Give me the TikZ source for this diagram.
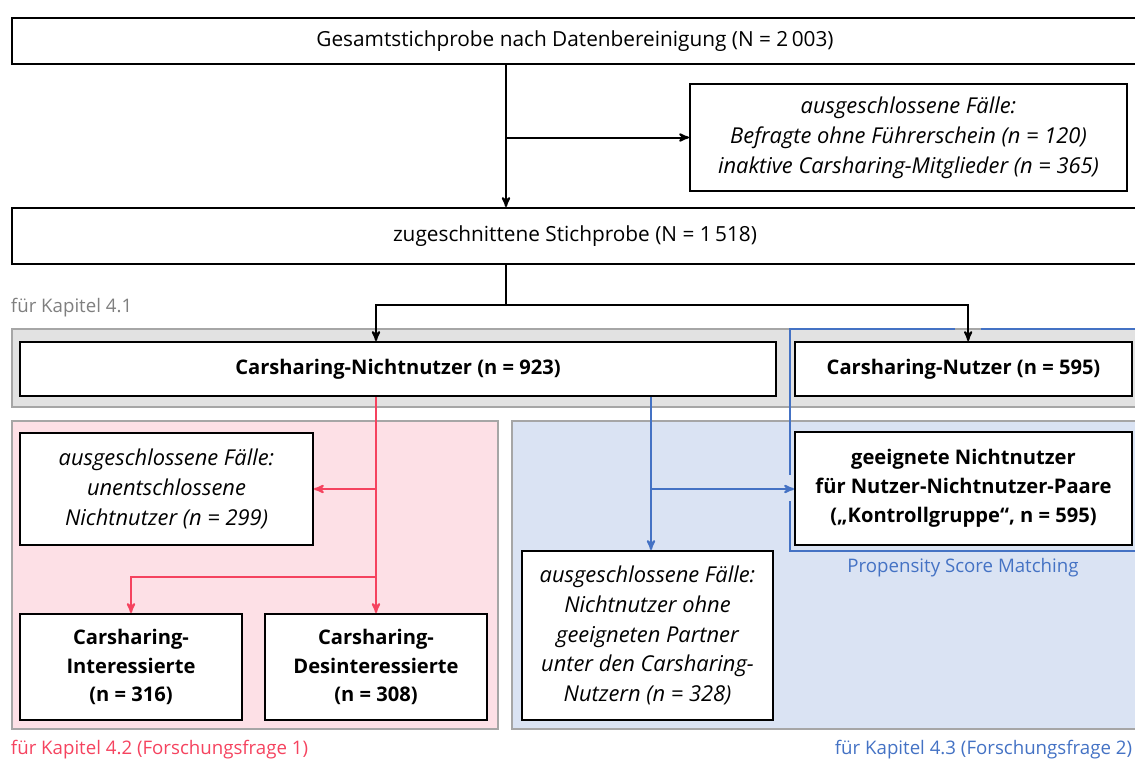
\documentclass[tikz,border=0pt]{standalone}
\usepackage{fontspec}
\setmainfont{Open Sans}
\usetikzlibrary{arrows,positioning}
\definecolor{rotlinie}{HTML}{F5435F}
\definecolor{rotfeld}{HTML}{FDE0E6}
\definecolor{blaulinie}{HTML}{4472C4}
\definecolor{blaufeld}{HTML}{DAE3F3}
\definecolor{graufeld}{HTML}{E2E2E2}
\definecolor{graurand}{HTML}{A6A6A6}
\definecolor{grautext}{HTML}{7F7F7F}
\newcommand{\normtext}{\fontsize{15.6}{22.2}\selectfont}
\newcommand{\fetttext}{\fontsize{15.1}{21.6}\selectfont\bfseries}
\newcommand{\kurstext}{\fontsize{16.4}{22.4}\selectfont\itshape}

\begin{document}
\begin{tikzpicture}[->,>=stealth',x=0.75pt,y=-0.75pt,line width=1.5pt,
		font=\normtext]
		\tikzstyle{box}=[draw=black,fill=white,line width=1.5pt,align=center,inner sep=2pt,-]
		\tikzstyle{feld}=[draw=graurand,line width=1pt,-]
		\tikzstyle{rot}=[draw=rotlinie,line width=1.5pt]
		\tikzstyle{blau}=[draw=blaulinie,line width=1.5pt]
		\tikzstyle{hinweis}=[anchor=west,inner sep=0pt,font=\fontsize{14}{17}\selectfont]
		
		\useasboundingbox (0,0) rectangle (1135,760);
		\clip (0,0) rectangle (1135,760);
		
		% Hintergrundfelder
		\fill[feld,fill=graufeld] (12,329) rectangle (1150,407);
		\fill[feld,fill=rotfeld] (12,421) rectangle (498,729);
		\fill[feld,fill=blaufeld] (512,421) rectangle (1150,729);
		\draw[blau,-] (955,329) -- (790,329) -- (790,475);
		\draw[blau,-] (790,501) -- (790,551) -- (1150,551);
		\draw[blau,-] (981,329) -- (1150,329);
		
		\node[box,minimum width=844.5pt,minimum height=34.5pt] (G) at (575,41)
			{Gesamtstichprobe nach Datenbereinigung (N = 2\,003)};
		\node[box,minimum width=327.75pt,minimum height=80.25pt,font=\kurstext] (E) at (908.5,137.5)
			{ausgeschlossene Fälle:\\Befragte ohne Führerschein (n = 120)\\inaktive Carsharing-Mitglieder (n = 365)};
		\node[box,minimum width=844.5pt,minimum height=42pt] (Z) at (575,236)
			{zugeschnittene Stichprobe (N = 1\,518)};
		\node[box,minimum width=567pt,minimum height=40.5pt,font=\fetttext] (NN) at (398,369)
			{Carsharing-Nichtnutzer (n = 923)};
		\node[box,minimum width=252.75pt,minimum height=40.5pt,font=\fetttext] (NU) at (963.5,369)
			{Carsharing-Nutzer (n = 595)};
		\node[box,minimum width=219.75pt,minimum height=84pt,font=\kurstext] (UE) at (166.5,489)
			{ausgeschlossene Fälle:\\unentschlossene\\Nichtnutzer (n = 299)};
		\node[box,minimum width=166.5pt,minimum height=79.5pt,font=\fetttext] (IN) at (131,667)
			{Carsharing-\\Interessierte\\(n = 316)};
		\node[box,minimum width=166.5pt,minimum height=79.5pt,font=\fetttext] (DI) at (376,667)
			{Carsharing-\\Desinteressierte\\(n = 308)};
		\node[box,minimum width=252.75pt,minimum height=84.75pt,font=\fetttext] (GN) at (963.5,488.5)
			{geeignete Nichtnutzer\\für Nutzer-Nichtnutzer-Paare\\(„Kontrollgruppe“, n = 595)};
		\node[box,minimum width=188.25pt,minimum height=126.75pt,font=\kurstext] (AN) at (647.5,635.5)
			{ausgeschlossene Fälle:\\Nichtnutzer ohne\\geeigneten Partner\\unter den Carsharing-\\Nutzern (n = 328)};
		
		% Beschriftungen
		\node[hinweis,text=grautext] (K1) at (10,308) {für Kapitel 4.1};
		\node[hinweis,text=rotlinie] (K2) at (10,750) {für Kapitel 4.2 (Forschungsfrage 1)};
		\node[hinweis,anchor=east,text=blaulinie] (K3) at (1133,750) {für Kapitel 4.3 (Forschungsfrage 2)};
		\node[hinweis,anchor=center,text=blaulinie] (PSM) at (963,568) {Propensity Score Matching};
		
		% Verbindungen
		\coordinate (j1) at (506,137.5);
		\coordinate (j2) at (506,305);
		\coordinate (r1) at (376,489);
		\coordinate (r2) at (376,577);
		\coordinate (b1) at (651,489);
		
		\path (G.south -| j1) edge (Z.north -| j1);
		\path (j1) edge (E.west);
		\draw[-] (Z.south -| j2) -- (j2);
		\draw (j2) -| (NN.north -| DI.north);
		\draw (j2) -| ([xshift=3.5pt]NU.north);
		
		\draw[rot] (NN.south -| DI.north) -- (DI.north);
		\draw[rot] (r1) -- (UE.east);
		\draw[rot] (r2) -| (IN.north);
		
		\draw[blau] (NN.south -| b1) -- (AN.north -| b1);
		\draw[blau] (b1) -- (GN.west |- b1);
\end{tikzpicture}
\end{document}
